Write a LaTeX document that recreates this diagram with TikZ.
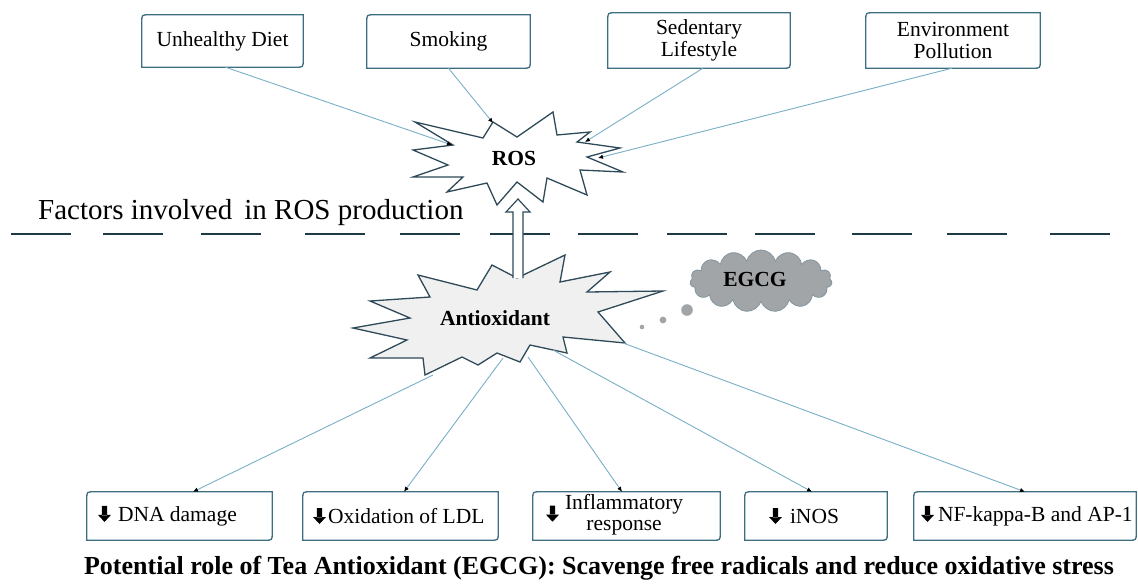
\documentclass[tikz,border=0pt]{standalone}
\usepackage{fontspec}
\setmainfont{Liberation Serif}
\usetikzlibrary{shapes.symbols,arrows.meta}
\definecolor{starline}{HTML}{2E4A58}
\definecolor{boxline}{HTML}{3E6E82}
\definecolor{connc}{HTML}{79AFC6}
\definecolor{dashc}{HTML}{1F3A47}
\definecolor{cloudfill}{HTML}{A2A5A8}
\definecolor{cloudline}{HTML}{8296A0}
\definecolor{starfill}{HTML}{F0F0F1}
\newcommand{\dnarr}{\tikz[baseline=0pt,x=1pt,y=1pt]{\fill[black] (-2.7,15.5) rectangle (2.7,6) (-6.5,6.5) -- (6.5,6.5) -- (0,-0.5) -- cycle;}}
\newcommand{\rbox}[1]{\draw[boxborder] ([xshift=7pt]#1.north west) -- (#1.north east) -- ([yshift=7pt]#1.south east) .. controls (#1.south east) .. ([xshift=-7pt]#1.south east) -- (#1.south west) -- ([yshift=-7pt]#1.north west) .. controls (#1.north west) .. ([xshift=7pt]#1.north west) -- cycle;}
\begin{document}
\begin{tikzpicture}[x=1pt,y=-1pt,
  boxborder/.style={draw=boxline, line width=1.3pt},
  tbox/.style={inner sep=0pt, align=center, font=\fontsize{21.5}{22}\selectfont},
  bbox/.style={inner sep=0pt, minimum height=48pt, font=\fontsize{21.5}{21}\selectfont},
  connline/.style={draw=connc, line width=0.9pt, -{Latex[length=5pt,width=4.5pt,color=black]}},
  starpath/.style={draw=starline, line width=1.3pt, line join=miter},
  boldlabel/.style={inner sep=0pt, font=\fontsize{21.5}{22}\selectfont\bfseries},
  dashseg/.style={draw=dashc, line width=2.6pt},
  dot/.style={fill=cloudfill, draw=none}]
\useasboundingbox (0,0) rectangle (1138,584);
% top boxes
\node[tbox, minimum width=161pt, minimum height=52pt] (ud) at (222.5,41) {Unhealthy Diet};
\node[tbox, minimum width=163pt, minimum height=53pt] (sm) at (448.5,41.5) {Smoking};
\node[tbox, minimum width=182pt, minimum height=55pt] (sl) at (699,40.5) {Sedentary\\Lifestyle};
\node[tbox, minimum width=174pt, minimum height=55pt] (ep) at (953,40.5) {Environment\\Pollution};
\foreach \n in {ud,sm,sl,ep} {\rbox{\n}}
% ROS star
\draw[starpath, fill=white] (415,122) -- (483,138) -- (493,122) -- (517,137) -- (553,112) -- (557,135) -- (590,132) -- (577,142) -- (620,148) -- (587,157) -- (623,172) -- (580,170) -- (587,195) -- (547,178) -- (543,202) -- (517,182) -- (497,205) -- (487,183) -- (447,192) -- (463,177) -- (413,177) -- (448,165) -- (413,150) -- (453,145) -- cycle;
\node[boldlabel] (ros) at (514,158) {ROS};
\coordinate (rosA) at (452,145);
\coordinate (rosB) at (493,123);
\coordinate (rosC) at (585,142);
\coordinate (rosD) at (598,158);
\draw[connline] (ud.south) ++(3,0) coordinate (udo) (udo) -- (rosA);
\draw[connline] (sm.south) -- (rosB);
\draw[connline] (sl.south) ++(4,0) coordinate (slo) (slo) -- (rosC);
\draw[connline] (ep.south) ++(-1,0) coordinate (epo) (epo) -- (rosD);
% factors text
\node[anchor=base west, inner sep=0pt, font=\fontsize{29}{29}\selectfont] (factors) at (38,219) {Factors involved\, in ROS production};
% dashed line
\foreach \a in {11,103,201,305,400,490,578,667,755,852,947,1050} {\draw[dashseg] (\a,234) -- ++(60,0);}
% antioxidant star
\draw[starpath, fill=starfill] (370,301) -- (430,297) -- (418,275) -- (477,290) -- (492,265) -- (517,278) -- (565,255) -- (560,282) -- (610,272) -- (587,292) -- (663,291) -- (598,312) -- (625,343) -- (563,337) -- (567,353) -- (530,345) -- (520,362) -- (497,353) -- (478,365) -- (462,357) -- (425,375) -- (423,358) -- (370,358) -- (407,340) -- (353,328) -- (410,318) -- cycle;
\node[boldlabel] (antiox) at (495,318) {Antioxidant};
% hollow arrow from antioxidant to ROS
\coordinate (hL0) at (513,278);
\coordinate (hL1) at (513,212);
\coordinate (hL2) at (506,212);
\coordinate (rosE) at (518,199);
\coordinate (hR2) at (530,212);
\coordinate (hR1) at (523,212);
\coordinate (hR0) at (523,278);
\draw[draw=starline, line width=1.2pt, fill=white, line join=miter] (hL0) -- (hL1) -- (hL2) -- (rosE) -- (hR2) -- (hR1) -- (hR0);
% cloud
\node[cloud, cloud puffs=15, aspect=2.5, fill=cloudfill, draw=cloudline, line width=0.8pt, minimum width=142pt, minimum height=62pt, inner sep=0pt] (egcgc) at (761,281) {};
\node[boldlabel] (egcg) at (755,279) {EGCG};
\fill[dot] (642,327) circle (2.3);
\fill[dot] (663,320) circle (3.4);
\fill[dot] (687,310) circle (5.8);
% bottom boxes
\node[bbox, minimum width=185pt] (dna) at (179.5,516) {\makebox[185pt][l]{\hspace{11pt}\dnarr\hspace{7pt}DNA damage}};
\node[bbox, minimum width=195pt] (ldl) at (400.5,516) {\makebox[195pt][l]{\hspace{10pt}\dnarr\hspace{2pt}Oxidation of LDL}};
\node[bbox, minimum width=187pt] (inf) at (626.5,516) {\makebox[187pt][l]{\hspace{13pt}\dnarr\hspace{6pt}\begin{tabular}[c]{@{}c@{}}Inflammatory\\response\end{tabular}}};
\node[bbox, minimum width=142pt] (inos) at (816,516) {\makebox[142pt][l]{\hspace{24pt}\dnarr\hspace{8pt}iNOS}};
\node[bbox, minimum width=222pt] (nf) at (1025,516) {\makebox[222pt][l]{\hspace{7pt}\dnarr\hspace{4pt}NF-kappa-B and AP-1}};
\foreach \n in {dna,ldl,inf,inos,nf} {\rbox{\n}}
\coordinate (antA) at (433,375);
\coordinate (antB) at (503,358);
\coordinate (antC) at (528,357);
\coordinate (antD) at (553,350);
\coordinate (antE) at (623,343);
\draw[connline] (antA) -- ([xshift=13.5pt]dna.north);
\draw[connline] (antB) -- ([xshift=3.5pt]ldl.north);
\draw[connline] (antC) -- ([xshift=-4.5pt]inf.north);
\draw[connline] (antD) -- ([xshift=-4pt]inos.north);
\draw[connline] (antE) -- ([xshift=0pt]nf.north);
% caption
\node[inner sep=0pt, anchor=base, font=\fontsize{26}{26}\selectfont\bfseries] (caption) at (599,574) {Potential role of Tea Antioxidant (EGCG): Scavenge free radicals and reduce oxidative stress};
\end{tikzpicture}
\end{document}
